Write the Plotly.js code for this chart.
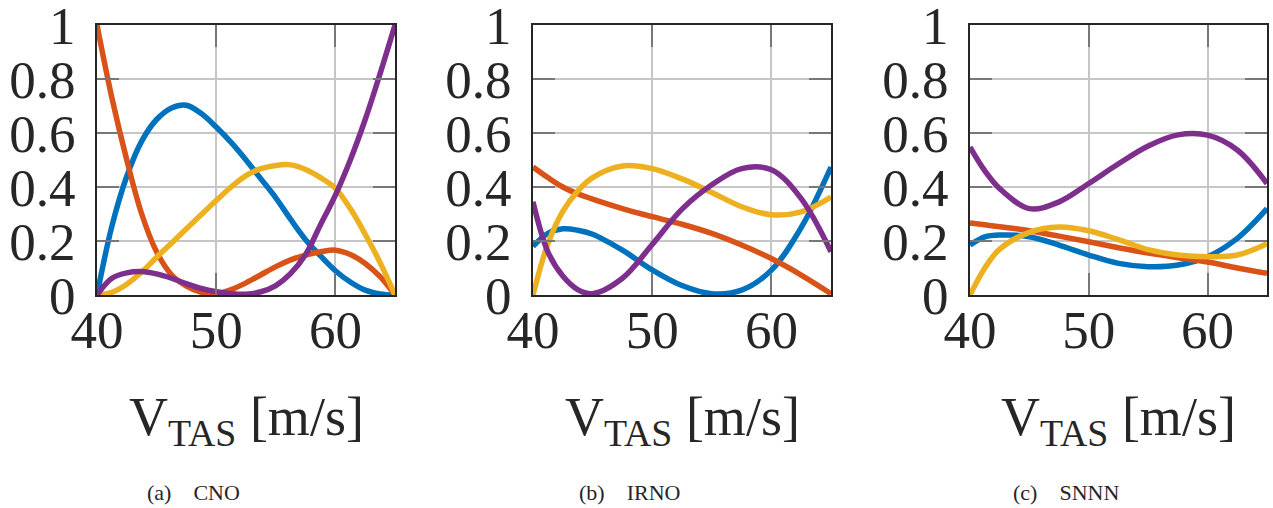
<!DOCTYPE html>
<html>
<head>
<meta charset="utf-8">
<script src="https://cdn.plot.ly/plotly-3.0.1.min.js"></script>
<style>html,body{margin:0;padding:0;background:#fff;}#chart{width:1273px;height:508px;}</style>
</head>
<body>
<div id="chart"></div>
<script>
// ---- Data ----
const panelCaptions = ["(a)\u00A0\u00A0\u00A0\u00A0CNO", "(b)\u00A0\u00A0\u00A0\u00A0IRNO", "(c)\u00A0\u00A0\u00A0\u00A0SNNN"];
const xTickVals = [40, 50, 60];
const yTickVals = [0, 0.2, 0.4, 0.6, 0.8, 1];
const yTickText = ["0", "0.2", "0.4", "0.6", "0.8", "1"];

// Panel (a) CNO
const xA = [40, 41.25, 42.5, 43.75, 45, 46.25, 47.5, 48.75, 50, 51.25, 52.5, 53.75, 55, 56.25, 57.5, 58.75, 60, 61.25, 62.5, 63.75, 65];
const aBlue   = [0, 0.255, 0.44, 0.57, 0.65, 0.693, 0.703, 0.672, 0.622, 0.565, 0.50, 0.43, 0.36, 0.28, 0.205, 0.145, 0.09, 0.048, 0.018, 0.004, 0];
const aOrange = [1.0, 0.73, 0.50, 0.30, 0.16, 0.075, 0.033, 0.01, 0.003, 0.02, 0.045, 0.075, 0.105, 0.13, 0.148, 0.16, 0.166, 0.15, 0.117, 0.068, 0];
const aYellow = [0, 0.01, 0.04, 0.085, 0.14, 0.192, 0.245, 0.298, 0.35, 0.40, 0.442, 0.468, 0.48, 0.482, 0.465, 0.435, 0.395, 0.32, 0.225, 0.12, 0];
const aPurple = [0, 0.062, 0.082, 0.087, 0.078, 0.062, 0.042, 0.024, 0.012, 0.005, 0.003, 0.012, 0.035, 0.08, 0.15, 0.26, 0.37, 0.50, 0.65, 0.82, 1.0];

// Panel (b) IRNO
const xB = [40, 41.25, 42.5, 43.75, 45, 47.5, 50, 52.5, 55, 57.5, 60, 62.5, 65];
const bBlue   = [0.18, 0.228, 0.245, 0.24, 0.225, 0.166, 0.093, 0.035, 0.005, 0.018, 0.092, 0.25, 0.474];
const bOrange = [0.474, 0.435, 0.40, 0.375, 0.355, 0.32, 0.29, 0.262, 0.228, 0.185, 0.135, 0.074, 0.005];
const bYellow = [0, 0.19, 0.31, 0.385, 0.435, 0.478, 0.468, 0.43, 0.38, 0.327, 0.297, 0.308, 0.363];
const bPurple = [0.345, 0.16, 0.07, 0.02, 0.005, 0.062, 0.187, 0.318, 0.408, 0.468, 0.464, 0.357, 0.16];

// Panel (c) SNNN
const xC = [40, 41.25, 42.5, 45, 47.5, 50, 52.5, 55, 57.5, 60, 62.5, 65];
const cBlue   = [0.185, 0.215, 0.222, 0.216, 0.185, 0.148, 0.117, 0.105, 0.111, 0.142, 0.21, 0.32];
const cOrange = [0.267, 0.26, 0.253, 0.238, 0.218, 0.197, 0.175, 0.155, 0.138, 0.122, 0.10, 0.08];
const cYellow = [0, 0.10, 0.17, 0.232, 0.252, 0.238, 0.205, 0.168, 0.148, 0.142, 0.148, 0.19];
const cPurple = [0.548, 0.46, 0.394, 0.32, 0.345, 0.413, 0.486, 0.552, 0.593, 0.592, 0.537, 0.413];

// ---- Styling ----
const colors = ["#0072BD", "#D95319", "#EDB120", "#7E2F8E"];
const FONT = "Liberation Serif, Times New Roman, serif";
const panels = [
  {x: xA, ys: [aBlue, aOrange, aYellow, aPurple]},
  {x: xB, ys: [bBlue, bOrange, bYellow, bPurple]},
  {x: xC, ys: [cBlue, cOrange, cYellow, cPurple]}
];

const traces = [];
panels.forEach((p, i) => {
  const ax = i === 0 ? "" : String(i + 1);
  p.ys.forEach((y, k) => {
    traces.push({
      x: p.x, y: y, type: "scatter", mode: "lines",
      xaxis: "x" + ax, yaxis: "y" + ax,
      line: {color: colors[k], width: 5.5, shape: "spline", smoothing: 1},
      hoverinfo: "skip", showlegend: false
    });
  });
});

const W = 1273, H = 508;
const mL = 97, mR = 6, mT = 25, mB = 213;
const pw = W - mL - mR, ph = H - mT - mB;
const pxDomains = [[97, 395], [533, 831], [970, 1267]];

function xAxis(d, anchor) {
  return {
    domain: [(d[0] - mL) / pw, (d[1] - mL) / pw], anchor: anchor,
    range: [40, 65], tickvals: xTickVals, ticktext: xTickVals.map(String),
    ticks: "inside", ticklen: 22, tickwidth: 2, tickcolor: "#777777",
    showline: true, linecolor: "#262626", linewidth: 2, mirror: "ticks",
    showgrid: true, gridcolor: "#c6c6c6", gridwidth: 2, zeroline: false,
    tickfont: {family: FONT, size: 53, color: "#262626"},
    ticklabelstandoff: -13, ticklabeloverflow: "allow", fixedrange: true
  };
}
function yAxis(anchor) {
  return {
    domain: [0, 1], anchor: anchor,
    range: [0, 1], tickvals: yTickVals, ticktext: yTickText,
    ticks: "inside", ticklen: 22, tickwidth: 2, tickcolor: "#777777",
    showline: true, linecolor: "#262626", linewidth: 2, mirror: "ticks",
    showgrid: true, gridcolor: "#c6c6c6", gridwidth: 2, zeroline: false,
    tickfont: {family: FONT, size: 53, color: "#262626"},
    ticklabelstandoff: 9, ticklabeloverflow: "allow", fixedrange: true
  };
}

const annotations = [];
pxDomains.forEach((d, i) => {
  const cx = ((d[0] + d[1]) / 2 - mL) / pw;
  annotations.push({
    xref: "paper", yref: "paper", x: cx, y: (295 - 420) / ph,
    xanchor: "center", yanchor: "middle", showarrow: false,
    text: "V<sub>TAS</sub> [m/s]",
    font: {family: FONT, size: 54, color: "#262626"}
  });
  annotations.push({
    xref: "paper", yref: "paper", x: cx - 53 / pw, y: (295 - 492) / ph,
    xanchor: "center", yanchor: "middle", showarrow: false,
    text: panelCaptions[i],
    font: {family: FONT, size: 22, color: "#262626"}
  });
});

const layout = {
  width: W, height: H,
  margin: {l: mL, r: mR, t: mT, b: mB, pad: 0},
  paper_bgcolor: "#ffffff", plot_bgcolor: "#ffffff",
  showlegend: false,
  xaxis: xAxis(pxDomains[0], "y"), yaxis: yAxis("x"),
  xaxis2: xAxis(pxDomains[1], "y2"), yaxis2: yAxis("x2"),
  xaxis3: xAxis(pxDomains[2], "y3"), yaxis3: yAxis("x3"),
  annotations: annotations
};

Plotly.newPlot("chart", traces, layout, {staticPlot: true, displayModeBar: false});
</script>
</body>
</html>
